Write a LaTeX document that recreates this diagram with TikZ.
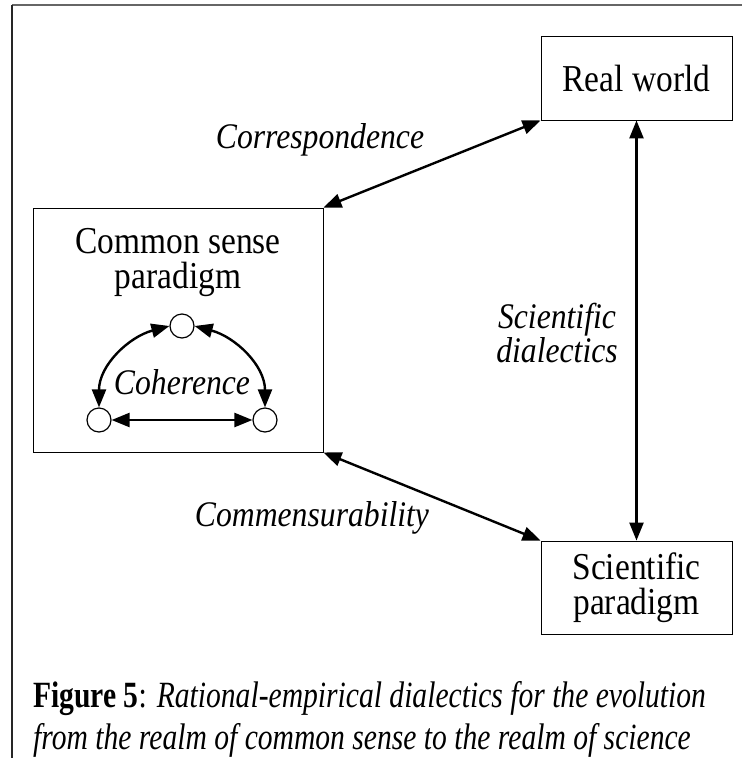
\documentclass[tikz,border=0pt]{standalone}
\usepackage{fontspec}
\setmainfont{Liberation Serif}[FakeStretch=0.88]
\newfontfamily\capfont{Liberation Serif}[FakeStretch=0.8]
\usetikzlibrary{arrows.meta}
\begin{document}
\begin{tikzpicture}[x=1pt,y=-1pt,
  box/.style={draw, line width=0.9pt, inner sep=0pt},
  txt/.style={font=\fontsize{38}{35}\selectfont, align=center, inner sep=0pt},
  lbl/.style={font=\fontsize{36}{34}\selectfont\itshape, align=center, inner sep=0pt},
  conn/.style={line width=2.4pt, {Triangle[length=18pt,width=14pt]}-{Triangle[length=18pt,width=14pt]}},
  dot/.style={circle, draw, line width=1.2pt, minimum size=24pt, inner sep=0pt}
]
\useasboundingbox (0,0) rectangle (742,758);
\draw[line width=1.3pt, black!60] (12,5) -- (742,5);
\draw[line width=1.3pt, black!85] (12,5) -- (12,758);

\node[box, txt, minimum width=191pt, minimum height=84pt] (rw) at (636.5,78) {Real world};
\node[box, txt, minimum width=191pt, minimum height=93pt] (sp) at (636.5,587.5) {Scientific\\paradigm};
\node[box, minimum width=290pt, minimum height=244pt] (cs) at (178,330) {};
\node[txt] (cst) at (178,263) {Common sense\\paradigm};

\node[dot] (c1) at (182,326) {};
\node[dot] (c2) at (99,420) {};
\node[dot] (c3) at (265,420) {};
\node[lbl] (coh) at (182,382) {Coherence};

\draw[conn] (c1.west) to[out=195,in=90] (c2.north);
\draw[conn] (c1.east) to[out=-15,in=90] (c3.north);
\draw[conn] (c2.east) -- (c3.west);

\draw[conn] (cs.north east) -- (rw.south west);
\draw[conn] (cs.south east) -- (sp.north west);
\draw[conn] (rw.south) -- (sp.north);

\node[lbl] (corr) at (320,140) {Correspondence};
\node[lbl] (comm) at (312,518) {Commensurability};
\node[lbl] (sd) at (557,333) {Scientific\\dialectics};

\node[font=\capfont\fontsize{37}{42}\selectfont, align=left, anchor=west, inner sep=0pt] (cap) at (33,719)
  {\textbf{Figure 5}: \textit{Rational-empirical dialectics for the evolution}\\
   \textit{from the realm of common sense to the realm of science}};
\end{tikzpicture}
\end{document}
